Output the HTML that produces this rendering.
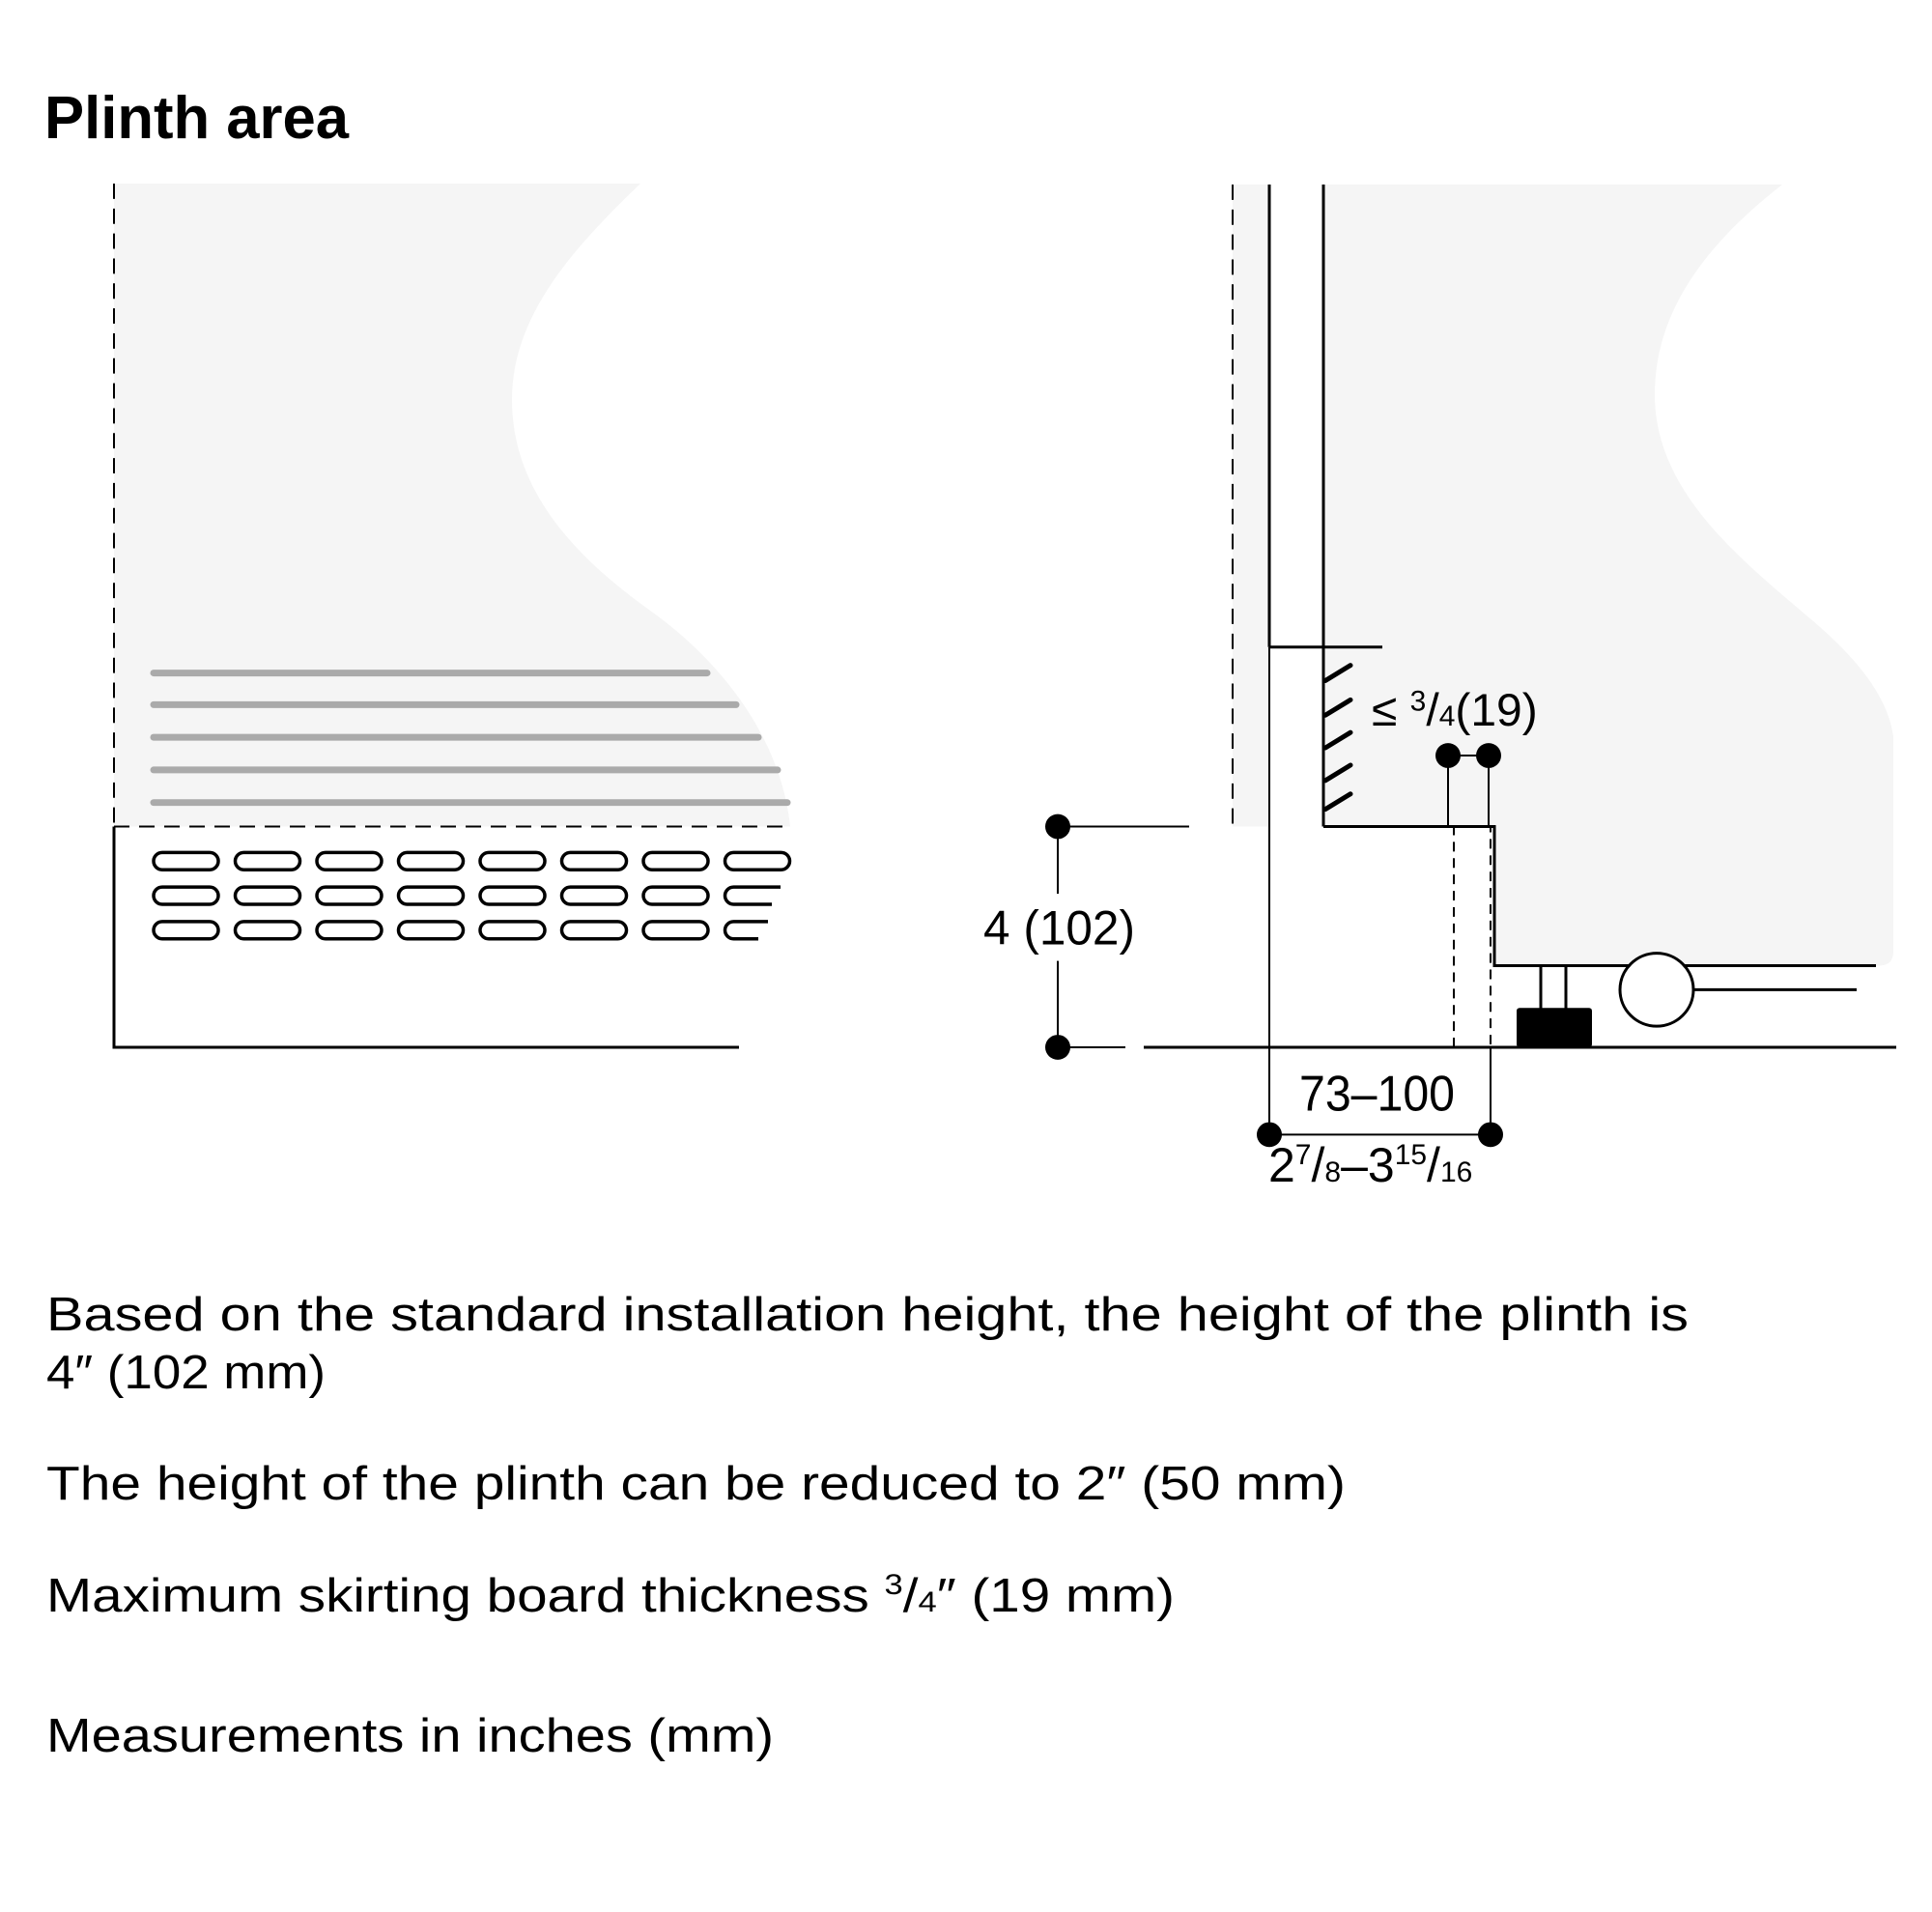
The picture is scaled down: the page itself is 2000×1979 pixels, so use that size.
<!DOCTYPE html>
<html><head><meta charset="utf-8"><style>
html,body{margin:0;padding:0;background:#fff;}
svg{display:block;}
text{font-family:"Liberation Sans",sans-serif;fill:#000;}
</style></head><body>
<svg width="2000" height="1979" viewBox="0 0 2000 1979" xmlns="http://www.w3.org/2000/svg">
<text x="46" y="143" font-size="62" font-weight="bold" textLength="315" lengthAdjust="spacingAndGlyphs">Plinth area</text>

<g transform="translate(0,191) scale(1,0.9933) translate(0,-191)">
<!-- LEFT PANEL -->
<path d="M118,190 L663,190 C590,260 530,330 530,415 C530,520 610,590 680,640 C760,700 810,780 818,860 L118,860 Z" fill="#f5f5f5"/>
<g stroke="#aaa" stroke-width="7" stroke-linecap="round">
<line x1="159" y1="700" x2="732" y2="700"/>
<line x1="159" y1="733" x2="762" y2="733"/>
<line x1="159" y1="767" x2="785" y2="767"/>
<line x1="159" y1="801" x2="805" y2="801"/>
<line x1="159" y1="835" x2="815" y2="835"/>
</g>
<line x1="118" y1="190" x2="118" y2="860" stroke="#000" stroke-width="2" stroke-dasharray="16,10"/>
<line x1="118" y1="860" x2="818" y2="860" stroke="#000" stroke-width="2" stroke-dasharray="16,10"/>
<polyline points="118,860 118,1090 765,1090" fill="none" stroke="#000" stroke-width="3"/>
<g fill="none" stroke="#000" stroke-width="3.5">
<rect x="159" y="887" width="67" height="18" rx="9"/><rect x="243.5" y="887" width="67" height="18" rx="9"/><rect x="328" y="887" width="67" height="18" rx="9"/><rect x="412.5" y="887" width="67" height="18" rx="9"/><rect x="497" y="887" width="67" height="18" rx="9"/><rect x="581.5" y="887" width="67" height="18" rx="9"/><rect x="666" y="887" width="67" height="18" rx="9"/><rect x="750.5" y="887" width="67" height="18" rx="9"/>
<rect x="159" y="923" width="67" height="18" rx="9"/><rect x="243.5" y="923" width="67" height="18" rx="9"/><rect x="328" y="923" width="67" height="18" rx="9"/><rect x="412.5" y="923" width="67" height="18" rx="9"/><rect x="497" y="923" width="67" height="18" rx="9"/><rect x="581.5" y="923" width="67" height="18" rx="9"/><rect x="666" y="923" width="67" height="18" rx="9"/>
<path d="M808,923 L759.5,923 A9,9 0 0 0 759.5,941 L799,941"/>
<rect x="159" y="959" width="67" height="18" rx="9"/><rect x="243.5" y="959" width="67" height="18" rx="9"/><rect x="328" y="959" width="67" height="18" rx="9"/><rect x="412.5" y="959" width="67" height="18" rx="9"/><rect x="497" y="959" width="67" height="18" rx="9"/><rect x="581.5" y="959" width="67" height="18" rx="9"/><rect x="666" y="959" width="67" height="18" rx="9"/>
<path d="M795,959 L759.5,959 A9,9 0 0 0 759.5,977 L785,977"/>
</g>

<!-- RIGHT PANEL -->
<rect x="1276" y="191" width="38" height="669" fill="#f5f5f5"/>
<path d="M1370,191 L1845,191 C1770,250 1713,320 1713,410 C1713,510 1800,580 1870,640 C1930,690 1955,730 1960,766 L1960,990 Q1960,1005 1945,1005 L1547,1005 L1547,860 L1370,860 Z" fill="#f5f5f5"/>
<line x1="1276" y1="191" x2="1276" y2="860" stroke="#000" stroke-width="2" stroke-dasharray="16,10"/>
<line x1="1314" y1="191" x2="1314" y2="673" stroke="#000" stroke-width="3"/>
<line x1="1314" y1="673" x2="1314" y2="1181" stroke="#000" stroke-width="2"/>
<line x1="1370" y1="191" x2="1370" y2="860" stroke="#000" stroke-width="3"/>
<line x1="1314" y1="673" x2="1431" y2="673" stroke="#000" stroke-width="3"/>
<polyline points="1370,860 1547,860 1547,1005 1942,1005" fill="none" stroke="#000" stroke-width="3"/>
<g stroke="#000" stroke-width="5" stroke-linecap="round">
<line x1="1372" y1="708" x2="1398" y2="692"/>
<line x1="1372" y1="744" x2="1398" y2="728"/>
<line x1="1372" y1="778" x2="1398" y2="762"/>
<line x1="1372" y1="812" x2="1398" y2="796"/>
<line x1="1372" y1="842" x2="1398" y2="826"/>
</g>
<text x="1420" y="755" font-size="48">≤ <tspan font-size="30" dy="-16">3</tspan><tspan dy="16">/</tspan><tspan font-size="30">4</tspan>(19)</text>
<g stroke="#000" stroke-width="2"><line x1="1499" y1="786" x2="1541" y2="786"/><line x1="1499" y1="786" x2="1499" y2="860"/><line x1="1541" y1="786" x2="1541" y2="860"/></g>
<circle cx="1499" cy="786" r="13"/><circle cx="1541" cy="786" r="13"/>
<rect x="1505" y="860" width="38" height="230" fill="none" stroke="#000" stroke-width="2" stroke-dasharray="10,7"/>
<line x1="1184" y1="1090" x2="1963" y2="1090" stroke="#000" stroke-width="3"/>
<g stroke="#000" stroke-width="3"><line x1="1595" y1="1005" x2="1595" y2="1051"/><line x1="1621" y1="1005" x2="1621" y2="1051"/></g>
<rect x="1570" y="1049" width="78" height="41" rx="3" fill="#000"/>
<line x1="1752" y1="1030" x2="1922" y2="1030" stroke="#000" stroke-width="3"/>
<circle cx="1715" cy="1030" r="38" fill="#fff" stroke="#000" stroke-width="3"/>
<g stroke="#000" stroke-width="2"><line x1="1095" y1="860" x2="1231" y2="860"/><line x1="1095" y1="1090" x2="1165" y2="1090"/><line x1="1095" y1="860" x2="1095" y2="930"/><line x1="1095" y1="1000" x2="1095" y2="1090"/></g>
<circle cx="1095" cy="860" r="13"/><circle cx="1095" cy="1090" r="13"/>
<text x="1018" y="983" font-size="50" textLength="157" lengthAdjust="spacingAndGlyphs">4 (102)</text>
<line x1="1543" y1="1090" x2="1543" y2="1181" stroke="#000" stroke-width="2"/>
<line x1="1314" y1="1181" x2="1543" y2="1181" stroke="#000" stroke-width="2"/>
<circle cx="1314" cy="1181" r="13"/><circle cx="1543" cy="1181" r="13"/>
<text x="1345" y="1156" font-size="52" textLength="161" lengthAdjust="spacingAndGlyphs">73–100</text>
<text x="1313" y="1230" font-size="50">2<tspan font-size="30" dy="-18">7</tspan><tspan dy="18">/</tspan><tspan font-size="30">8</tspan>–3<tspan font-size="30" dy="-18">15</tspan><tspan dy="18">/</tspan><tspan font-size="30">16</tspan></text>
</g>

<text x="48" y="1377" font-size="49" textLength="1700" lengthAdjust="spacingAndGlyphs">Based on the standard installation height, the height of the plinth is</text>
<text x="48" y="1437" font-size="49" textLength="289" lengthAdjust="spacingAndGlyphs">4″ (102 mm)</text>
<text x="48" y="1552" font-size="49" textLength="1345" lengthAdjust="spacingAndGlyphs">The height of the plinth can be reduced to 2″ (50 mm)</text>
<text x="48" y="1668" font-size="49" textLength="1168" lengthAdjust="spacingAndGlyphs">Maximum skirting board thickness <tspan font-size="30" dy="-18">3</tspan><tspan dy="18">/</tspan><tspan font-size="30">4</tspan>″ (19 mm)</text>
<text x="48" y="1813" font-size="49" textLength="753" lengthAdjust="spacingAndGlyphs">Measurements in inches (mm)</text>
</svg>
</body></html>
